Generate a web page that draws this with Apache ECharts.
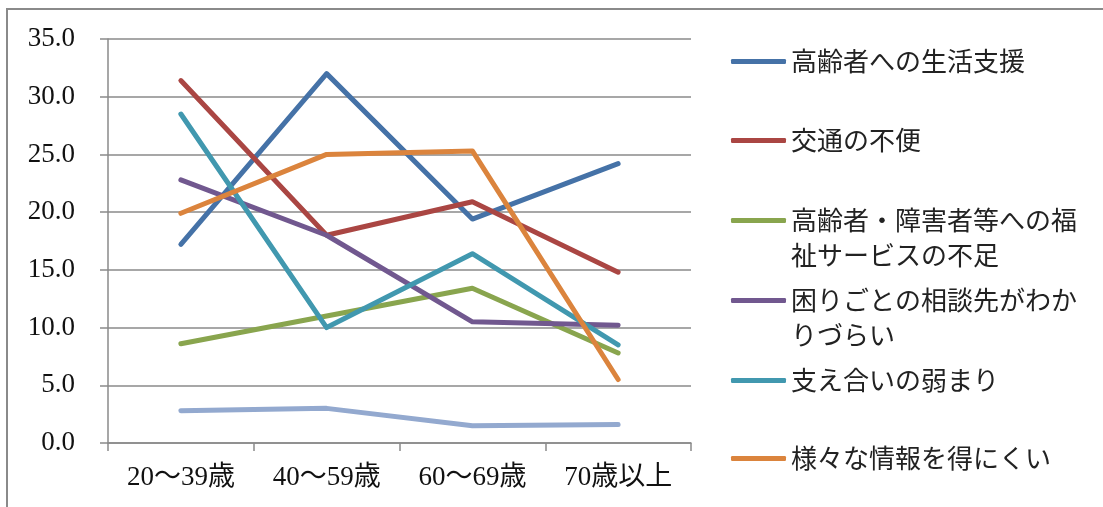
<!DOCTYPE html>
<html>
<head>
<meta charset="utf-8">
<script src="https://cdn.jsdelivr.net/npm/echarts@6/dist/echarts.min.js"></script>
<style>
    html,body{margin:0;padding:0;background:#fff;}
    #chart{width:1103px;height:507px;}
</style>
</head>
<body>
<div id="chart"></div>
<script>
"use strict";
/*カテゴリ*/
let ages = ['20～39歳','40～59歳','60～69歳','70歳以上'];
let yTicks = ['0.0','5.0','10.0','15.0','20.0','25.0','30.0','35.0'];

/*各項目の値(%)*/
let seikatsuShien = [17.2, 32.0, 19.4, 24.2];
let koutsuu = [31.4, 18.0, 20.9, 14.8];
let fukushi = [8.6, 11.0, 13.4, 7.8];
let soudan = [22.8, 18.0, 10.5, 10.2];
let sasaeai = [28.5, 10.0, 16.4, 8.5];
let jouhou = [19.9, 25.0, 25.3, 5.5];
let sonota = [2.8, 3.0, 1.5, 1.6];

let names = ['高齢者への生活支援','交通の不便','高齢者・障害者等への福\n祉サービスの不足',
    '困りごとの相談先がわか\nりづらい','支え合いの弱まり','様々な情報を得にくい','その他'];
let colors = ['#4572A7','#AA4643','#89A54E','#71588F','#4198AF','#DB843D','#93A9CF'];

let font = '"Liberation Serif","Noto Sans CJK JP",serif';
let gray = '#8a8a8a';

/*凡例(項目ごとに位置を指定)*/
let legendTop = [44, 123, 168, 248, 363, 441];
let legends = [];
for (let i = 0; i < 6; i++) {
    legends.push({
        left: 731,
        top: legendTop[i],
        padding: 0,
        orient: 'vertical',
        itemWidth: 55,
        itemHeight: 5,
        icon: 'roundRect',
        data: [names[i]],
        // 2行の項目はアイコンを1行目に合わせる
        formatter: name => name.indexOf('\n') >= 0 ? ' \n' + name : name,
        textStyle: {
            fontFamily: '"Noto Sans CJK JP",sans-serif',
            fontSize: 26,
            lineHeight: 35,
            color: '#222'
        }
    });
}

let data = [seikatsuShien, koutsuu, fukushi, soudan, sasaeai, jouhou, sonota];
let series = data.map((d, i) => ({
    type: 'line',
    name: names[i],
    data: d,
    symbol: 'none',
    color: colors[i],
    lineStyle: {width: 5, color: colors[i], cap: 'round', join: 'round'}
}));

let option = {
    animation: false,
    backgroundColor: '#fff',
    graphic: [{
        type: 'rect',
        shape: {x: 7, y: 9, width: 1200, height: 600},
        style: {fill: 'none', stroke: gray, lineWidth: 2}
    }],
    grid: {left: 108, right: 412, top: 39, bottom: 64},
    legend: legends,
    xAxis: {
        type: 'category',
        data: ages,
        boundaryGap: true,
        axisLine: {lineStyle: {color: gray, width: 1.5}},
        axisTick: {show: true, length: 8, lineStyle: {color: gray, width: 1.5}},
        axisLabel: {margin: 21, color: '#111', fontFamily: font, fontSize: 27}
    },
    yAxis: {
        type: 'value',
        min: 0,
        max: 35,
        interval: 5,
        axisLine: {show: true, lineStyle: {color: gray, width: 1.5}},
        axisTick: {show: true, length: 8, lineStyle: {color: gray, width: 1.5}},
        splitLine: {lineStyle: {color: gray, width: 1.5}},
        axisLabel: {
            margin: 33,
            color: '#111',
            fontFamily: font,
            fontSize: 27,
            formatter: v => yTicks[Math.round(v / 5)]
        }
    },
    series: series
};

let chart = echarts.init(document.getElementById('chart'));
chart.setOption(option);
</script>
</body>
</html>
